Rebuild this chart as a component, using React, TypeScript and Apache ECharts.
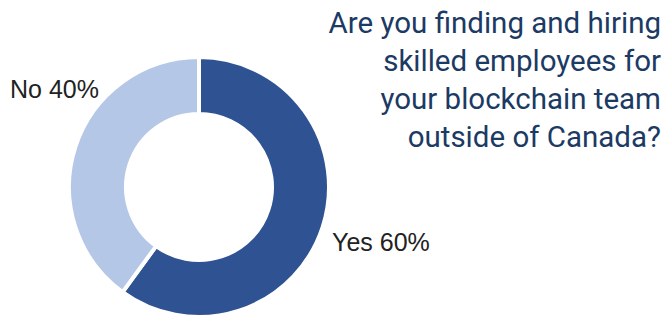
import React, { useEffect, useRef } from "react";
import * as echarts from "echarts";

const categories = ["Yes", "No"];
const values = [60, 40];
const sliceColors = ["#2F5392", "#B4C7E7"];
const titleLines = [
  "Are you finding and hiring",
  "skilled employees for",
  "your blockchain team",
  "outside of Canada?",
];
// label anchor positions (left, middle) for each slice label
const labelAnchors = [
  [332, 242],
  [10, 89],
];

export default function App() {
  const ref = useRef<HTMLDivElement>(null);
  useEffect(() => {
    document.body.style.margin = "0";
    const chart = echarts.init(ref.current!, null, { renderer: "svg" });
    const total = values.reduce((a, b) => a + b, 0);
    chart.setOption({
      animation: false,
      backgroundColor: "#ffffff",
      graphic: [
        ...titleLines.map((line, i) => ({
          type: "text",
          x: 661,
          y: 23 + i * 38,
          style: {
            text: line,
            fontFamily: "Roboto",
            fontSize: 29.5,
            fill: "#1B3A64",
            align: "right",
            verticalAlign: "middle",
          },
        })),
        ...categories.map((c, i) => ({
          type: "text",
          x: labelAnchors[i][0],
          y: labelAnchors[i][1],
          style: {
            text: `${c} ${Math.round((values[i] / total) * 100)}%`,
            fontFamily: "Liberation Sans",
            fontSize: 25,
            fill: "#222222",
            align: "left",
            verticalAlign: "middle",
          },
        })),
      ],
      series: [
        {
          type: "pie",
          center: [199, 187],
          radius: [73, 130],
          startAngle: 90,
          clockwise: true,
          itemStyle: { borderColor: "#ffffff", borderWidth: 4 },
          label: { show: false },
          labelLine: { show: false },
          emphasis: { disabled: true },
          data: categories.map((c, i) => ({
            name: c,
            value: values[i],
            itemStyle: { color: sliceColors[i] },
          })),
        },
      ],
    });
    return () => chart.dispose();
  }, []);
  return <div ref={ref} style={{ width: 665, height: 318 }} />;
}
